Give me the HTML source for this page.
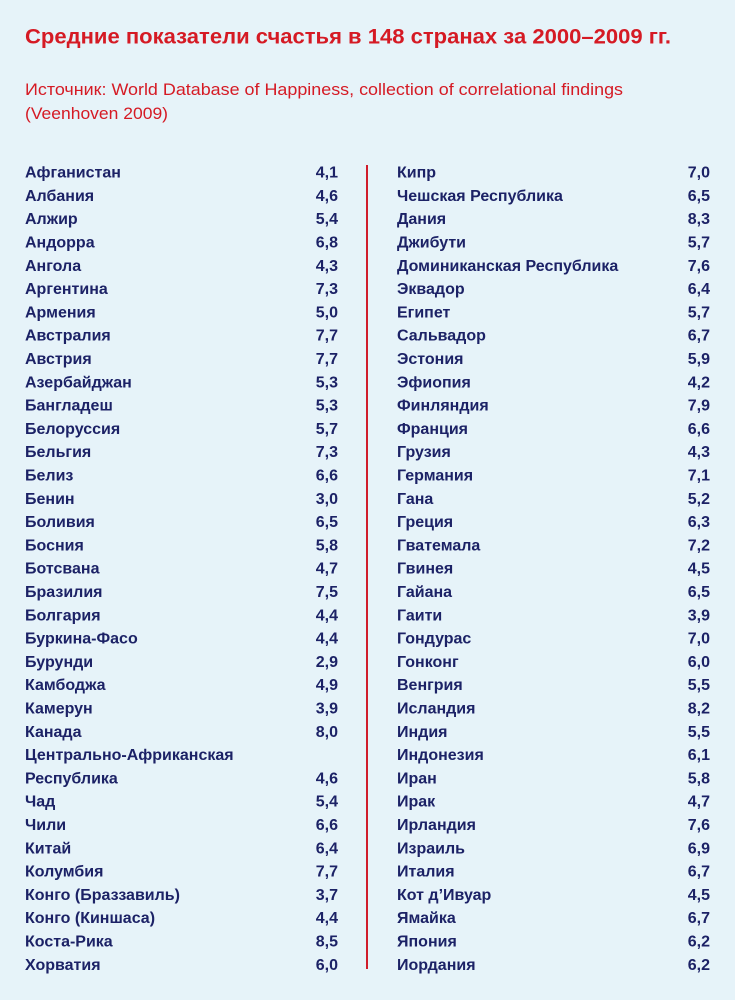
<!DOCTYPE html>
<html><head><meta charset="utf-8"><style>
html,body{margin:0;padding:0;background:#e6f3f9;}
svg{display:block;}
.t{font-family:"Liberation Sans","Noto Sans CJK SC",sans-serif;}
.n{font-family:"Liberation Sans",sans-serif;font-weight:bold;font-size:16px;fill:#1c2266;}
</style></head><body>
<svg width="735" height="1000" viewBox="0 0 735 1000" xmlns="http://www.w3.org/2000/svg">
<rect width="735" height="1000" fill="#e6f3f9"/>
<text class="t" x="25" y="43.5" font-size="21.5" font-weight="bold" fill="#d51a24" textLength="646" lengthAdjust="spacingAndGlyphs">Средние показатели счастья в 148 странах за 2000–2009 гг.</text>
<text class="t" x="25" y="95" font-size="17" fill="#d51a24" textLength="598" lengthAdjust="spacingAndGlyphs">Источник: World Database of Happiness, collection of correlational findings</text>
<text class="t" x="25" y="119" font-size="17" fill="#d51a24" textLength="143" lengthAdjust="spacingAndGlyphs">(Veenhoven 2009)</text>
<rect x="366" y="165" width="2" height="804" fill="#d01c2b"/>
<g class="n">
<text x="25" y="177.6">Афганистан</text><text x="338" y="177.6" text-anchor="end">4,1</text>
<text x="25" y="200.9">Албания</text><text x="338" y="200.9" text-anchor="end">4,6</text>
<text x="25" y="224.2">Алжир</text><text x="338" y="224.2" text-anchor="end">5,4</text>
<text x="25" y="247.5">Андорра</text><text x="338" y="247.5" text-anchor="end">6,8</text>
<text x="25" y="270.8">Ангола</text><text x="338" y="270.8" text-anchor="end">4,3</text>
<text x="25" y="294.1">Аргентина</text><text x="338" y="294.1" text-anchor="end">7,3</text>
<text x="25" y="317.4">Армения</text><text x="338" y="317.4" text-anchor="end">5,0</text>
<text x="25" y="340.7">Австралия</text><text x="338" y="340.7" text-anchor="end">7,7</text>
<text x="25" y="364.0">Австрия</text><text x="338" y="364.0" text-anchor="end">7,7</text>
<text x="25" y="387.3">Азербайджан</text><text x="338" y="387.3" text-anchor="end">5,3</text>
<text x="25" y="410.6">Бангладеш</text><text x="338" y="410.6" text-anchor="end">5,3</text>
<text x="25" y="433.9">Белоруссия</text><text x="338" y="433.9" text-anchor="end">5,7</text>
<text x="25" y="457.2">Бельгия</text><text x="338" y="457.2" text-anchor="end">7,3</text>
<text x="25" y="480.5">Белиз</text><text x="338" y="480.5" text-anchor="end">6,6</text>
<text x="25" y="503.8">Бенин</text><text x="338" y="503.8" text-anchor="end">3,0</text>
<text x="25" y="527.1">Боливия</text><text x="338" y="527.1" text-anchor="end">6,5</text>
<text x="25" y="550.4">Босния</text><text x="338" y="550.4" text-anchor="end">5,8</text>
<text x="25" y="573.7">Ботсвана</text><text x="338" y="573.7" text-anchor="end">4,7</text>
<text x="25" y="597.0">Бразилия</text><text x="338" y="597.0" text-anchor="end">7,5</text>
<text x="25" y="620.3">Болгария</text><text x="338" y="620.3" text-anchor="end">4,4</text>
<text x="25" y="643.6">Буркина-Фасо</text><text x="338" y="643.6" text-anchor="end">4,4</text>
<text x="25" y="666.9">Бурунди</text><text x="338" y="666.9" text-anchor="end">2,9</text>
<text x="25" y="690.2">Камбоджа</text><text x="338" y="690.2" text-anchor="end">4,9</text>
<text x="25" y="713.5">Камерун</text><text x="338" y="713.5" text-anchor="end">3,9</text>
<text x="25" y="736.8">Канада</text><text x="338" y="736.8" text-anchor="end">8,0</text>
<text x="25" y="760.1">Центрально-Африканская</text>
<text x="25" y="783.4">Республика</text><text x="338" y="783.4" text-anchor="end">4,6</text>
<text x="25" y="806.7">Чад</text><text x="338" y="806.7" text-anchor="end">5,4</text>
<text x="25" y="830.0">Чили</text><text x="338" y="830.0" text-anchor="end">6,6</text>
<text x="25" y="853.3">Китай</text><text x="338" y="853.3" text-anchor="end">6,4</text>
<text x="25" y="876.6">Колумбия</text><text x="338" y="876.6" text-anchor="end">7,7</text>
<text x="25" y="899.9">Конго (Браззавиль)</text><text x="338" y="899.9" text-anchor="end">3,7</text>
<text x="25" y="923.2">Конго (Киншаса)</text><text x="338" y="923.2" text-anchor="end">4,4</text>
<text x="25" y="946.5">Коста-Рика</text><text x="338" y="946.5" text-anchor="end">8,5</text>
<text x="25" y="969.8">Хорватия</text><text x="338" y="969.8" text-anchor="end">6,0</text>

<text x="397" y="177.6">Кипр</text><text x="710" y="177.6" text-anchor="end">7,0</text>
<text x="397" y="200.9">Чешская Республика</text><text x="710" y="200.9" text-anchor="end">6,5</text>
<text x="397" y="224.2">Дания</text><text x="710" y="224.2" text-anchor="end">8,3</text>
<text x="397" y="247.5">Джибути</text><text x="710" y="247.5" text-anchor="end">5,7</text>
<text x="397" y="270.8">Доминиканская Республика</text><text x="710" y="270.8" text-anchor="end">7,6</text>
<text x="397" y="294.1">Эквадор</text><text x="710" y="294.1" text-anchor="end">6,4</text>
<text x="397" y="317.4">Египет</text><text x="710" y="317.4" text-anchor="end">5,7</text>
<text x="397" y="340.7">Сальвадор</text><text x="710" y="340.7" text-anchor="end">6,7</text>
<text x="397" y="364.0">Эстония</text><text x="710" y="364.0" text-anchor="end">5,9</text>
<text x="397" y="387.3">Эфиопия</text><text x="710" y="387.3" text-anchor="end">4,2</text>
<text x="397" y="410.6">Финляндия</text><text x="710" y="410.6" text-anchor="end">7,9</text>
<text x="397" y="433.9">Франция</text><text x="710" y="433.9" text-anchor="end">6,6</text>
<text x="397" y="457.2">Грузия</text><text x="710" y="457.2" text-anchor="end">4,3</text>
<text x="397" y="480.5">Германия</text><text x="710" y="480.5" text-anchor="end">7,1</text>
<text x="397" y="503.8">Гана</text><text x="710" y="503.8" text-anchor="end">5,2</text>
<text x="397" y="527.1">Греция</text><text x="710" y="527.1" text-anchor="end">6,3</text>
<text x="397" y="550.4">Гватемала</text><text x="710" y="550.4" text-anchor="end">7,2</text>
<text x="397" y="573.7">Гвинея</text><text x="710" y="573.7" text-anchor="end">4,5</text>
<text x="397" y="597.0">Гайана</text><text x="710" y="597.0" text-anchor="end">6,5</text>
<text x="397" y="620.3">Гаити</text><text x="710" y="620.3" text-anchor="end">3,9</text>
<text x="397" y="643.6">Гондурас</text><text x="710" y="643.6" text-anchor="end">7,0</text>
<text x="397" y="666.9">Гонконг</text><text x="710" y="666.9" text-anchor="end">6,0</text>
<text x="397" y="690.2">Венгрия</text><text x="710" y="690.2" text-anchor="end">5,5</text>
<text x="397" y="713.5">Исландия</text><text x="710" y="713.5" text-anchor="end">8,2</text>
<text x="397" y="736.8">Индия</text><text x="710" y="736.8" text-anchor="end">5,5</text>
<text x="397" y="760.1">Индонезия</text><text x="710" y="760.1" text-anchor="end">6,1</text>
<text x="397" y="783.4">Иран</text><text x="710" y="783.4" text-anchor="end">5,8</text>
<text x="397" y="806.7">Ирак</text><text x="710" y="806.7" text-anchor="end">4,7</text>
<text x="397" y="830.0">Ирландия</text><text x="710" y="830.0" text-anchor="end">7,6</text>
<text x="397" y="853.3">Израиль</text><text x="710" y="853.3" text-anchor="end">6,9</text>
<text x="397" y="876.6">Италия</text><text x="710" y="876.6" text-anchor="end">6,7</text>
<text x="397" y="899.9">Кот д’Ивуар</text><text x="710" y="899.9" text-anchor="end">4,5</text>
<text x="397" y="923.2">Ямайка</text><text x="710" y="923.2" text-anchor="end">6,7</text>
<text x="397" y="946.5">Япония</text><text x="710" y="946.5" text-anchor="end">6,2</text>
<text x="397" y="969.8">Иордания</text><text x="710" y="969.8" text-anchor="end">6,2</text>
</g>
</svg>
</body></html>
